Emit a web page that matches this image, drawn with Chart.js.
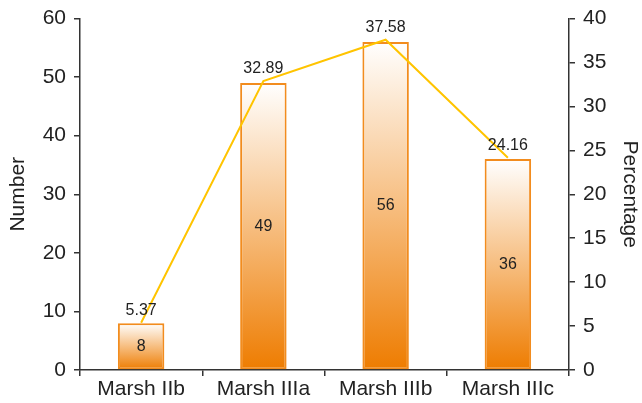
<!DOCTYPE html>
<html>
<head>
<meta charset="utf-8">
<script src="https://cdn.jsdelivr.net/npm/chart.js@4"></script>
<style>
  html, body { margin: 0; padding: 0; background: #fff; }
  #wrap { width: 642px; height: 403px; }
</style>
</head>
<body>
<div id="wrap"><canvas id="grafico"></canvas></div>
<script>
const categorias = ['Marsh IIb', 'Marsh IIIa', 'Marsh IIIb', 'Marsh IIIc'];
const numeros = [8, 49, 56, 36];
const percentuais = [5.37, 32.89, 37.58, 24.16];
const ticksNumero = [0, 10, 20, 30, 40, 50, 60];
const ticksPercentual = [0, 5, 10, 15, 20, 25, 30, 35, 40];

const corTexto = '#222';
const corEixo = '#333';
const fonte = 'Liberation Sans, Arial, sans-serif';

// gradiente por barra: branco no topo, laranja na base
function gradienteBarra(ctx) {
    const chart = ctx.chart;
    const escala = chart.scales.y;
    if (!escala || !chart.chartArea) return '#f5a55a';
    const topo = escala.getPixelForValue(numeros[ctx.dataIndex]);
    const base = escala.getPixelForValue(0);
    const g = chart.ctx.createLinearGradient(0, topo, 0, base);
    g.addColorStop(0, '#ffffff');
    g.addColorStop(1, '#ee7c00');
    return g;
}

const rotulos = {
    id: 'rotulos',
    afterDatasetsDraw(chart) {
        const c = chart.ctx;
        c.save();
        c.fillStyle = corTexto;
        c.font = '16px ' + fonte;
        c.textAlign = 'center';
        c.textBaseline = 'middle';
        chart.getDatasetMeta(1).data.forEach((el, i) => {
            c.fillText(String(numeros[i]), el.x, (el.y + el.base) / 2);
        });
        chart.getDatasetMeta(0).data.forEach((el, i) => {
            c.fillText(percentuais[i].toFixed(2), el.x, el.y - 12);
        });
        c.restore();
    }
};

new Chart(document.getElementById('grafico'), {
    type: 'bar',
    data: {
        labels: categorias,
        datasets: [
            {
                type: 'line',
                label: 'Percentage',
                data: percentuais,
                yAxisID: 'y1',
                borderColor: '#ffc400',
                borderWidth: 2,
                pointRadius: 0,
                tension: 0,
                order: 0
            },
            {
                label: 'Number',
                data: numeros,
                yAxisID: 'y',
                backgroundColor: gradienteBarra,
                borderColor: '#f28c1e',
                borderWidth: 2,
                borderSkipped: false,
                categoryPercentage: 1,
                barPercentage: 0.38,
                order: 1
            }
        ]
    },
    plugins: [rotulos],
    options: {
        responsive: true,
        maintainAspectRatio: false,
        animation: false,
        layout: { padding: { top: 18, left: 0, right: 0, bottom: 0 } },
        plugins: {
            legend: { display: false },
            tooltip: { enabled: false }
        },
        scales: {
            x: {
                border: { display: true, color: corEixo, width: 1.5 },
                grid: { display: true, drawOnChartArea: false, drawTicks: true, tickLength: 6, color: corEixo, lineWidth: 1.5, offset: true },
                ticks: { color: corTexto, font: { family: fonte, size: 21 }, padding: 1 },
                afterFit(s) { s.height = 33; }
            },
            y: {
                position: 'left',
                min: 0,
                max: 60,
                afterBuildTicks(s) { s.ticks = ticksNumero.map(v => ({ value: v })); },
                border: { display: true, color: corEixo, width: 1.5 },
                grid: { display: true, drawOnChartArea: false, drawTicks: true, tickLength: 6, color: corEixo, lineWidth: 1.5 },
                ticks: { color: corTexto, font: { family: fonte, size: 21, lineHeight: 1 }, padding: 8 },
                title: { display: true, text: 'Number', color: corTexto, font: { family: fonte, size: 21 }, padding: { top: 6, bottom: 0 } },
                afterFit(s) { s.width = 80; }
            },
            y1: {
                position: 'right',
                min: 0,
                max: 40,
                afterBuildTicks(s) { s.ticks = ticksPercentual.map(v => ({ value: v })); },
                border: { display: true, color: corEixo, width: 1.5 },
                grid: { display: true, drawOnChartArea: false, drawTicks: true, tickLength: 6, color: corEixo, lineWidth: 1.5 },
                ticks: { color: corTexto, font: { family: fonte, size: 21, lineHeight: 1 }, padding: 8 },
                title: { display: true, text: 'Percentage', color: corTexto, font: { family: fonte, size: 21 }, padding: 0 },
                afterFit(s) { s.width = 73; }
            }
        }
    }
});
</script>
</body>
</html>
